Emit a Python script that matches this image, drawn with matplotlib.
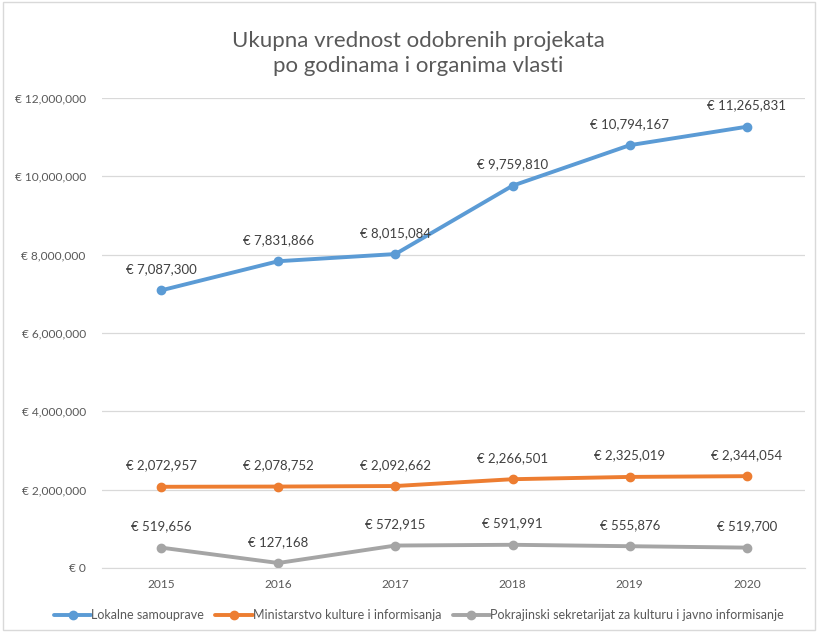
import matplotlib.pyplot as plt
from matplotlib.patches import Rectangle

plt.rcParams['font.family'] = ['Lato', 'DejaVu Sans']

years = ['2015', '2016', '2017', '2018', '2019', '2020']
lokalne = [7087300, 7831866, 8015084, 9759810, 10794167, 11265831]
ministarstvo = [2072957, 2078752, 2092662, 2266501, 2325019, 2344054]
pokrajinski = [519656, 127168, 572915, 591991, 555876, 519700]

names = ['Lokalne samouprave', 'Ministarstvo kulture i informisanja',
         'Pokrajinski sekretarijat za kulturu i javno informisanje']
colors = ['#5b9bd5', '#ed7d31', '#a5a5a5']

fig = plt.figure(figsize=(8.18, 6.32), dpi=100)
ax = fig.add_axes([0.1253, 0.1013, 0.8594, 0.7437])

x = range(len(years))
for vals, name, c in zip([lokalne, ministarstvo, pokrajinski], names, colors):
    ax.plot(x, vals, color=c, lw=2.8, marker='o', ms=6, label=name,
            solid_capstyle='round')
    for i, v in enumerate(vals):
        ax.annotate(f'€ {v:,}', (i, v), xytext=(0, 11), textcoords='offset points',
                    ha='center', va='bottom', fontsize=9.5, color='#404040')

ax.set_xlim(-0.5, len(years) - 0.5)
ax.set_ylim(0, 12000000)
ax.set_yticks(range(0, 12000001, 2000000))
ax.set_yticklabels(['€ 0'] + [f'€ {v:,}' for v in range(2000000, 12000001, 2000000)])
ax.set_xticks(list(x))
ax.set_xticklabels(years)
ax.tick_params(axis='both', length=0, labelsize=8.6, labelcolor='#595959')
ax.tick_params(axis='x', pad=8)
ax.tick_params(axis='y', pad=12)
ax.grid(axis='y', color='#d9d9d9', lw=0.9)
ax.set_axisbelow(True)
for s in ['top', 'right', 'left']:
    ax.spines[s].set_visible(False)
ax.spines['bottom'].set_color('#d9d9d9')

fig.text(0.511, 0.915, 'Ukupna vrednost odobrenih projekata\npo godinama i organima vlasti',
         ha='center', va='center', fontsize=16, color='#595959', linespacing=1.3)

fig.legend(loc='center', bbox_to_anchor=(0.512, 0.027), ncol=3, frameon=False,
           fontsize=9, handlelength=3.0, handletextpad=0.0, columnspacing=0.9,
           labelcolor='#595959')

fig.patches.append(Rectangle((0.004, 0.003), 0.992, 0.994, transform=fig.transFigure,
                             fill=False, edgecolor='#d9d9d9', lw=1))

fig.savefig('out.png', dpi=100)
